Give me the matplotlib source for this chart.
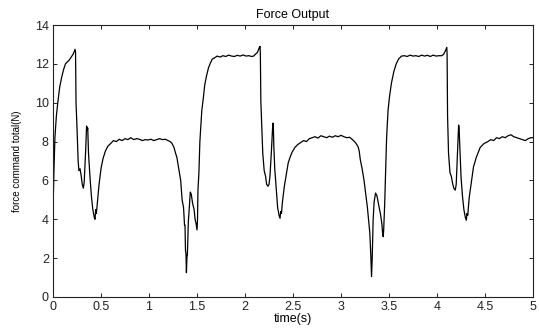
import numpy as np
import matplotlib.pyplot as plt

plt.rcParams['font.family'] = ['Liberation Sans', 'DejaVu Sans']

# force command (s, N)
time_s = [
    0.000, 0.002, 0.010, 0.020, 0.035, 0.050, 0.070, 0.090, 0.110, 0.130,
    0.150, 0.170, 0.190, 0.210, 0.230, 0.235, 0.240, 0.250, 0.262, 0.270,
    0.282, 0.292, 0.305, 0.316, 0.325, 0.340, 0.350, 0.357, 0.362, 0.370,
    0.385, 0.400, 0.415, 0.430, 0.438, 0.445, 0.452, 0.465, 0.480, 0.500,
    0.520, 0.545, 0.570, 0.600, 0.630, 0.660, 0.690, 0.720, 0.750, 0.780,
    0.810, 0.840, 0.870, 0.900, 0.930, 0.960, 0.990, 1.020, 1.050, 1.080,
    1.110, 1.140, 1.170, 1.200, 1.220, 1.240, 1.260, 1.280, 1.290, 1.310,
    1.330, 1.345, 1.360, 1.370, 1.375, 1.380, 1.385, 1.390, 1.395, 1.400,
    1.410, 1.420, 1.430, 1.440, 1.455, 1.470, 1.480, 1.490, 1.500, 1.505,
    1.510, 1.520, 1.530, 1.540, 1.550, 1.565, 1.580, 1.600, 1.620, 1.640,
    1.660, 1.680, 1.710, 1.740, 1.770, 1.800, 1.830, 1.860, 1.890, 1.920,
    1.950, 1.980, 2.010, 2.040, 2.070, 2.090, 2.110, 2.130, 2.150, 2.157,
    2.160, 2.165, 2.175, 2.185, 2.200, 2.215, 2.225, 2.240, 2.250, 2.260,
    2.275, 2.290, 2.295, 2.300, 2.310, 2.325, 2.340, 2.355, 2.365, 2.372,
    2.380, 2.390, 2.410, 2.430, 2.450, 2.470, 2.490, 2.520, 2.550, 2.580,
    2.610, 2.640, 2.670, 2.700, 2.730, 2.760, 2.790, 2.820, 2.850, 2.880,
    2.910, 2.940, 2.970, 3.000, 3.030, 3.060, 3.090, 3.120, 3.150, 3.170,
    3.180, 3.190, 3.200, 3.220, 3.240, 3.260, 3.275, 3.290, 3.300, 3.310,
    3.318, 3.325, 3.335, 3.345, 3.360, 3.375, 3.390, 3.410, 3.425, 3.435,
    3.440, 3.445, 3.455, 3.465, 3.475, 3.490, 3.505, 3.525, 3.550, 3.575,
    3.600, 3.630, 3.660, 3.690, 3.720, 3.750, 3.780, 3.810, 3.840, 3.870,
    3.900, 3.930, 3.960, 3.990, 4.020, 4.050, 4.070, 4.090, 4.102, 4.105,
    4.110, 4.120, 4.135, 4.150, 4.160, 4.175, 4.190, 4.200, 4.210, 4.225,
    4.230, 4.240, 4.250, 4.265, 4.280, 4.295, 4.305, 4.312, 4.320, 4.335,
    4.355, 4.380, 4.410, 4.450, 4.490, 4.530, 4.560, 4.590, 4.620, 4.650,
    4.680, 4.710, 4.740, 4.770, 4.800, 4.830, 4.860, 4.890, 4.920, 4.950,
    4.980, 5.000,
]
force_n = [
    2.70, 4.80, 6.50, 8.20, 9.30, 10.00, 10.80, 11.30, 11.70, 12.00,
    12.10, 12.20, 12.35, 12.50, 12.75, 12.60, 10.00, 8.75, 7.00, 6.50,
    6.60, 6.30, 5.80, 5.60, 5.90, 7.50, 8.80, 8.60, 8.70, 7.40,
    6.20, 5.20, 4.50, 4.10, 4.00, 4.50, 4.30, 5.00, 5.80, 6.60,
    7.10, 7.50, 7.75, 7.90, 8.05, 8.00, 8.12, 8.05, 8.15, 8.10,
    8.20, 8.10, 8.15, 8.12, 8.05, 8.10, 8.08, 8.12, 8.05, 8.10,
    8.15, 8.10, 8.12, 8.05, 8.00, 7.90, 7.70, 7.35, 7.20, 6.60,
    6.00, 5.00, 4.60, 3.70, 3.70, 2.40, 2.25, 1.25, 2.00, 2.20,
    3.90, 4.60, 5.40, 5.30, 4.80, 4.50, 4.00, 3.80, 3.45, 3.90,
    5.50, 6.40, 8.00, 8.80, 9.60, 10.20, 10.90, 11.40, 11.80, 12.05,
    12.25, 12.30, 12.40, 12.35, 12.42, 12.38, 12.45, 12.40, 12.38, 12.44,
    12.40, 12.46, 12.40, 12.42, 12.38, 12.40, 12.50, 12.60, 12.85, 12.90,
    12.50, 10.10, 8.75, 7.40, 6.50, 6.20, 5.80, 5.70, 5.80, 6.20,
    7.50, 8.95, 8.90, 7.80, 6.60, 5.60, 4.60, 4.20, 4.05, 4.40,
    4.30, 4.90, 5.70, 6.30, 6.90, 7.20, 7.45, 7.70, 7.85, 7.95,
    8.05, 8.00, 8.15, 8.20, 8.25, 8.18, 8.30, 8.25, 8.20, 8.28,
    8.22, 8.30, 8.25, 8.32, 8.25, 8.20, 8.22, 8.10, 7.95, 7.80,
    7.70, 7.50, 7.10, 6.60, 6.00, 5.20, 4.60, 3.80, 3.30, 2.20,
    1.05, 2.00, 4.00, 4.90, 5.35, 5.20, 4.80, 4.30, 3.80, 3.20,
    3.10, 3.50, 4.80, 6.50, 8.20, 9.60, 10.30, 11.00, 11.60, 12.00,
    12.25, 12.40, 12.42, 12.38, 12.45, 12.40, 12.42, 12.38, 12.45, 12.40,
    12.44, 12.38, 12.45, 12.40, 12.42, 12.42, 12.50, 12.70, 12.85, 12.50,
    9.30, 7.40, 6.40, 6.20, 5.90, 5.60, 5.50, 5.80, 7.00, 8.85,
    8.70, 7.40, 6.20, 5.20, 4.50, 4.10, 3.95, 4.30, 4.20, 5.10,
    5.80, 6.70, 7.20, 7.70, 7.90, 8.00, 8.10, 8.05, 8.20, 8.15,
    8.25, 8.20, 8.30, 8.35, 8.25, 8.20, 8.15, 8.10, 8.05, 8.15,
    8.20, 8.20,
]

xticks = [0, 0.5, 1, 1.5, 2, 2.5, 3, 3.5, 4, 4.5, 5]
xticklabels = ['0', '0.5', '1', '1.5', '2', '2.5', '3', '3.5', '4', '4.5', '5']
yticks = [0, 2, 4, 6, 8, 10, 12, 14]

fig = plt.figure(figsize=(5.39, 3.29), dpi=100)
ax = fig.add_axes([0.0983, 0.0973, 0.8906, 0.8267])

ax.plot(time_s, force_n, color='black', linewidth=0.9)

ax.set_xlim(0, 5)
ax.set_ylim(0, 14)
ax.set_xticks(xticks)
ax.set_xticklabels(xticklabels)
ax.set_yticks(yticks)
ax.tick_params(direction='in', length=3, width=0.7, top=True, right=True,
               labelsize=9, pad=3, colors='#222222')
for s in ax.spines.values():
    s.set_linewidth(0.8)
    s.set_color('#222222')

ax.set_title('Force Output', fontsize=9, pad=5)
ax.set_xlabel('time(s)', fontsize=9, labelpad=0)
ax.set_ylabel('force command total(N)', fontsize=7, labelpad=9)

fig.savefig('out.png', dpi=100)
